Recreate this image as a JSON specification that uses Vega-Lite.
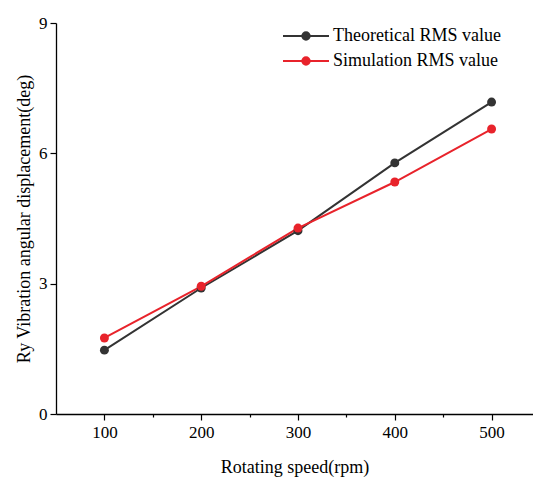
{
  "$schema": "https://vega.github.io/schema/vega-lite/v6.json",
  "width": 477,
  "height": 391,
  "autosize": "none",
  "padding": {"left": 56, "top": 23, "right": 0, "bottom": 66},
  "background": "white",
  "config": {
    "view": {"stroke": null},
    "font": "Liberation Serif",
    "axis": {
      "domainColor": "black",
      "domainWidth": 1.3,
      "tickColor": "black",
      "tickWidth": 1.2,
      "labelColor": "black",
      "labelFontSize": 17,
      "labelFont": "Liberation Serif",
      "titleFont": "Liberation Serif",
      "titleFontSize": 18,
      "titleFontWeight": "normal",
      "titleColor": "black",
      "grid": false
    }
  },
  "data": {
    "values": [
      {"speed": 100, "value": 1.47, "series": "Theoretical RMS value"},
      {"speed": 200, "value": 2.90, "series": "Theoretical RMS value"},
      {"speed": 300, "value": 4.22, "series": "Theoretical RMS value"},
      {"speed": 400, "value": 5.78, "series": "Theoretical RMS value"},
      {"speed": 500, "value": 7.18, "series": "Theoretical RMS value"},
      {"speed": 100, "value": 1.75, "series": "Simulation RMS value"},
      {"speed": 200, "value": 2.94, "series": "Simulation RMS value"},
      {"speed": 300, "value": 4.28, "series": "Simulation RMS value"},
      {"speed": 400, "value": 5.34, "series": "Simulation RMS value"},
      {"speed": 500, "value": 6.56, "series": "Simulation RMS value"}
    ]
  },
  "encoding": {
    "x": {
      "field": "speed",
      "type": "quantitative",
      "scale": {"domain": [50, 542.8], "nice": false, "zero": false},
      "axis": {
        "title": "Rotating speed(rpm)",
        "values": [100, 150, 200, 250, 300, 350, 400, 450, 500],
        "labelExpr": "datum.value % 100 === 0 ? datum.label : ''",
        "tickSize": {"condition": {"test": "datum.value % 100 !== 0", "value": 3}, "value": 6},
        "labelPadding": 4,
        "titlePadding": 18
      }
    },
    "y": {
      "field": "value",
      "type": "quantitative",
      "scale": {"domain": [0, 9], "nice": false},
      "axis": {
        "title": "Ry Vibration angular displacement(deg)",
        "values": [0, 3, 6, 9],
        "tickSize": 6,
        "labelPadding": 3,
        "titlePadding": 5
      }
    },
    "color": {
      "field": "series",
      "type": "nominal",
      "sort": ["Theoretical RMS value", "Simulation RMS value"],
      "scale": {
        "domain": ["Theoretical RMS value", "Simulation RMS value"],
        "range": ["#333333", "#e8232b"]
      },
      "legend": {
        "title": null,
        "orient": "none",
        "legendX": 239,
        "legendY": 2,
        "padding": 0,
        "symbolType": "M-2.3,0H2.3M-0.37,0A0.37,0.37,0,1,1,0.37,0A0.37,0.37,0,1,1,-0.37,0Z",
        "symbolSize": 400,
        "symbolStrokeWidth": 2,
        "labelFontSize": 18,
        "labelFont": "Liberation Serif",
        "labelColor": "black",
        "labelLimit": 0,
        "labelOffset": 16,
        "rowPadding": 5
      }
    }
  },
  "layer": [
    {
      "data": {"values": [{}]},
      "mark": {"type": "rule", "color": "black", "strokeWidth": 1.3},
      "encoding": {"y": {"datum": 9, "type": "quantitative"}, "x": null, "color": null}
    },
    {
      "mark": {"type": "line", "strokeWidth": 2}
    },
    {
      "mark": {"type": "point", "filled": true, "size": 80, "opacity": 1}
    }
  ]
}
